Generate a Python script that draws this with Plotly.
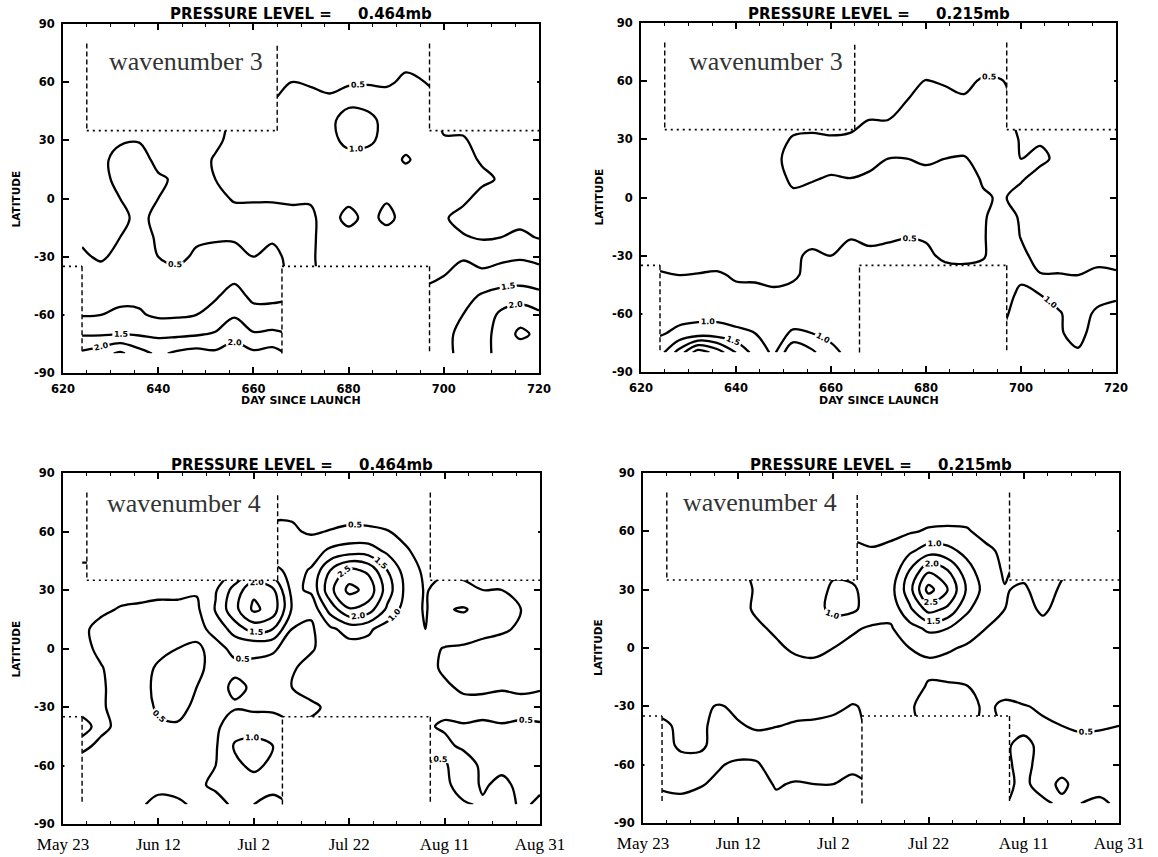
import plotly.graph_objects as go

# ---------------- data (amplitudes) ----------------
DAYS = [624, 628, 632, 636, 640, 644, 648, 652, 656, 660, 664, 668, 672,
        676, 680, 684, 688, 692, 696, 700, 704, 708, 712, 716, 720]
LATS = [80, 70, 60, 50, 40, 30, 20, 10, 0, -10, -20, -30, -40, -50, -60, -70, -80]

# wavenumber 3, 0.464 mb (rows follow LATS, columns follow DAYS)
W3_P464 = [
    [0.30,0.30,0.30,0.30,0.30,0.30,0.30,0.30,0.30,0.30,0.30,0.30,0.30,0.30,0.30,0.30,0.30,0.30,0.30,0.30,0.30,0.30,0.30,0.30,0.30],
    [0.30,0.30,0.30,0.30,0.30,0.30,0.30,0.30,0.30,0.30,0.30,0.32,0.30,0.30,0.30,0.30,0.32,0.40,0.35,0.35,0.35,0.35,0.35,0.35,0.35],
    [0.30,0.35,0.35,0.35,0.35,0.35,0.35,0.35,0.35,0.35,0.38,0.50,0.42,0.36,0.42,0.45,0.42,0.60,0.50,0.40,0.40,0.40,0.40,0.40,0.40],
    [0.35,0.40,0.40,0.40,0.40,0.40,0.40,0.40,0.40,0.40,0.50,0.70,0.75,0.60,0.85,0.80,0.75,0.90,0.80,0.45,0.45,0.45,0.45,0.45,0.45],
    [0.38,0.40,0.40,0.40,0.40,0.40,0.40,0.40,0.55,0.62,0.68,0.75,0.80,0.85,1.30,1.20,0.80,0.85,0.75,0.45,0.35,0.35,0.35,0.35,0.35],
    [0.35,0.40,0.45,0.48,0.35,0.30,0.30,0.40,0.65,0.75,0.80,0.80,0.80,0.85,1.15,1.10,0.85,0.85,0.80,0.52,0.55,0.35,0.30,0.30,0.30],
    [0.35,0.40,0.65,0.65,0.40,0.50,0.30,0.55,0.70,0.75,0.80,0.80,0.75,0.80,0.80,0.80,0.80,1.05,0.85,0.70,0.65,0.45,0.30,0.30,0.30],
    [0.35,0.40,0.60,0.70,0.55,0.45,0.30,0.50,0.70,0.75,0.75,0.80,0.80,0.80,0.80,0.80,0.80,0.80,0.80,0.75,0.75,0.60,0.45,0.30,0.30],
    [0.35,0.35,0.50,0.65,0.50,0.30,0.30,0.35,0.55,0.55,0.55,0.60,0.55,0.75,0.85,0.75,0.95,0.80,0.75,0.70,0.60,0.35,0.30,0.30,0.30],
    [0.35,0.35,0.40,0.60,0.40,0.30,0.30,0.30,0.30,0.30,0.30,0.30,0.40,0.75,1.20,0.80,1.15,0.80,0.75,0.55,0.35,0.30,0.30,0.35,0.40],
    [0.45,0.40,0.50,0.65,0.45,0.40,0.45,0.45,0.45,0.40,0.45,0.42,0.40,0.75,0.75,0.75,0.75,0.75,0.70,0.60,0.54,0.45,0.50,0.60,0.47],
    [0.55,0.45,0.60,0.65,0.50,0.42,0.55,0.65,0.65,0.50,0.60,0.40,0.40,0.80,0.80,0.80,0.80,0.80,0.80,0.85,0.95,0.85,0.90,0.95,0.90],
    [0.65,0.65,0.70,0.70,0.65,0.60,0.70,0.75,0.90,0.75,0.75,0.40,0.40,0.80,0.85,0.85,0.85,0.85,0.90,1.00,1.20,1.10,1.20,1.25,1.15],
    [0.80,0.82,0.90,0.90,0.80,0.80,0.85,0.95,1.15,0.90,0.90,0.95,1.00,1.00,1.00,1.00,1.00,1.05,1.10,1.20,1.30,1.55,1.70,1.75,1.65],
    [0.97,1.00,1.07,1.05,0.92,0.93,1.00,1.15,1.45,1.15,1.15,1.20,1.20,1.20,1.20,1.20,1.25,1.25,1.30,1.35,1.50,1.70,2.10,2.30,2.10],
    [1.45,1.45,1.50,1.45,1.40,1.40,1.45,1.55,1.80,1.55,1.60,1.50,1.50,1.50,1.50,1.50,1.50,1.50,1.45,1.40,1.60,1.80,2.20,2.60,2.40],
    [2.10,2.30,2.60,2.20,1.90,2.10,2.20,2.10,2.30,2.10,2.20,1.90,1.80,1.80,1.80,1.80,1.80,1.80,1.50,1.30,1.70,1.90,2.10,2.20,2.00],
]

# wavenumber 3, 0.215 mb
W3_P215 = [
    [0.30,0.30,0.30,0.30,0.30,0.30,0.30,0.30,0.30,0.30,0.30,0.30,0.30,0.30,0.30,0.30,0.30,0.30,0.30,0.30,0.30,0.30,0.30,0.30,0.30],
    [0.30,0.30,0.30,0.30,0.30,0.30,0.30,0.30,0.30,0.30,0.30,0.30,0.30,0.30,0.30,0.30,0.30,0.30,0.30,0.30,0.30,0.30,0.30,0.30,0.30],
    [0.30,0.30,0.30,0.30,0.30,0.30,0.30,0.30,0.30,0.30,0.30,0.30,0.30,0.35,0.52,0.45,0.40,0.55,0.52,0.30,0.30,0.30,0.30,0.30,0.30],
    [0.30,0.30,0.30,0.30,0.30,0.30,0.30,0.30,0.30,0.30,0.30,0.35,0.40,0.50,0.65,0.65,0.55,0.70,0.65,0.30,0.30,0.30,0.30,0.30,0.30],
    [0.30,0.30,0.30,0.30,0.30,0.30,0.30,0.30,0.30,0.30,0.30,0.50,0.50,0.70,0.80,0.80,0.80,0.85,0.75,0.30,0.30,0.30,0.30,0.30,0.30],
    [0.30,0.30,0.30,0.30,0.30,0.30,0.30,0.55,0.60,0.55,0.60,0.65,0.65,0.70,0.75,0.75,0.80,0.80,0.80,0.45,0.45,0.30,0.30,0.30,0.30],
    [0.30,0.30,0.30,0.30,0.30,0.30,0.40,0.65,0.70,0.75,0.75,0.60,0.50,0.50,0.55,0.50,0.45,0.70,0.80,0.50,0.60,0.40,0.30,0.30,0.30],
    [0.30,0.30,0.30,0.30,0.30,0.30,0.30,0.60,0.55,0.45,0.50,0.45,0.35,0.35,0.40,0.35,0.30,0.55,0.80,0.55,0.35,0.30,0.30,0.30,0.30],
    [0.30,0.30,0.30,0.30,0.30,0.30,0.30,0.40,0.30,0.30,0.30,0.30,0.30,0.30,0.30,0.30,0.30,0.45,0.55,0.35,0.30,0.30,0.30,0.30,0.30],
    [0.30,0.30,0.30,0.30,0.30,0.30,0.30,0.30,0.30,0.30,0.30,0.30,0.30,0.30,0.30,0.30,0.30,0.45,0.70,0.45,0.30,0.30,0.30,0.30,0.30],
    [0.30,0.30,0.30,0.30,0.30,0.30,0.30,0.35,0.40,0.42,0.48,0.45,0.45,0.48,0.45,0.35,0.35,0.45,0.80,0.48,0.30,0.30,0.30,0.30,0.30],
    [0.30,0.30,0.30,0.30,0.30,0.30,0.30,0.45,0.55,0.50,0.60,0.55,0.60,0.65,0.60,0.40,0.35,0.45,0.80,0.60,0.35,0.30,0.30,0.35,0.35],
    [0.55,0.50,0.52,0.55,0.45,0.45,0.42,0.45,0.60,0.60,0.65,0.70,0.70,0.70,0.70,0.70,0.70,0.70,0.70,0.90,0.52,0.52,0.50,0.60,0.55],
    [0.65,0.65,0.65,0.62,0.60,0.58,0.55,0.60,0.70,0.70,0.75,0.80,0.80,0.80,0.80,0.80,0.80,0.80,0.80,1.10,1.00,0.80,0.70,0.80,0.90],
    [0.75,0.85,0.85,0.85,0.80,0.75,0.70,0.80,0.80,0.75,0.75,0.90,0.90,0.90,0.90,0.90,0.90,0.90,0.90,1.20,1.15,1.05,0.75,1.10,1.20],
    [0.95,1.10,1.20,1.20,1.10,1.00,0.85,1.05,1.00,0.90,0.85,1.00,1.00,1.00,1.00,1.00,1.00,1.00,1.00,1.25,1.20,1.05,0.85,1.20,1.25],
    [1.30,2.20,3.30,2.80,2.00,1.30,0.90,2.00,1.60,1.10,0.90,1.00,1.00,1.00,1.00,1.00,1.00,1.00,1.00,1.10,1.20,1.10,1.05,1.15,1.20],
]

# wavenumber 4, 0.464 mb
W4_P464 = [
    [0.30,0.30,0.30,0.30,0.30,0.30,0.30,0.30,0.30,0.30,0.30,0.30,0.30,0.30,0.30,0.30,0.30,0.30,0.30,0.30,0.30,0.30,0.30,0.30,0.30],
    [0.30,0.30,0.30,0.30,0.30,0.30,0.30,0.30,0.30,0.30,0.45,0.45,0.32,0.30,0.30,0.30,0.30,0.30,0.30,0.30,0.30,0.30,0.30,0.30,0.30],
    [0.30,0.30,0.30,0.30,0.30,0.30,0.30,0.30,0.30,0.30,0.55,0.55,0.45,0.52,0.60,0.58,0.52,0.35,0.25,0.30,0.30,0.30,0.30,0.30,0.30],
    [0.35,0.35,0.35,0.35,0.35,0.35,0.35,0.35,0.35,0.35,0.55,0.60,0.75,1.10,1.25,1.25,0.90,0.55,0.30,0.30,0.30,0.30,0.30,0.30,0.30],
    [0.60,0.60,0.60,0.60,0.60,0.60,0.55,0.65,1.00,1.40,1.20,0.80,1.05,2.00,2.65,2.40,1.50,0.75,0.40,0.40,0.40,0.40,0.40,0.40,0.40],
    [0.60,0.60,0.60,0.60,0.60,0.60,0.55,0.95,1.70,2.40,2.10,0.85,1.10,2.35,3.15,2.85,1.75,0.85,0.45,0.75,0.60,0.50,0.50,0.40,0.30],
    [0.60,0.55,0.48,0.45,0.40,0.40,0.40,1.05,1.85,2.60,2.30,0.95,0.60,1.70,2.45,2.25,1.40,0.75,0.45,0.95,1.05,0.80,0.65,0.50,0.35],
    [0.55,0.42,0.35,0.35,0.35,0.42,0.40,0.60,1.25,1.70,1.50,0.50,0.42,0.90,1.20,1.10,0.75,0.55,0.50,0.75,0.70,0.60,0.55,0.45,0.30],
    [0.60,0.42,0.35,0.35,0.40,0.50,0.55,0.40,0.58,0.55,0.55,0.35,0.45,0.70,0.80,0.80,0.75,0.65,0.60,0.48,0.45,0.40,0.35,0.30,0.30],
    [0.60,0.52,0.35,0.35,0.55,0.70,0.60,0.35,0.42,0.45,0.35,0.45,0.65,0.70,0.65,0.65,0.65,0.65,0.60,0.45,0.35,0.35,0.35,0.35,0.35],
    [0.60,0.55,0.35,0.35,0.60,0.70,0.50,0.35,0.58,0.45,0.35,0.50,0.60,0.65,0.65,0.65,0.65,0.65,0.60,0.55,0.45,0.45,0.48,0.45,0.48],
    [0.55,0.55,0.35,0.35,0.55,0.65,0.40,0.35,0.45,0.40,0.40,0.40,0.45,0.55,0.60,0.60,0.60,0.58,0.60,0.60,0.60,0.60,0.60,0.60,0.60],
    [0.45,0.55,0.45,0.35,0.45,0.45,0.35,0.40,0.80,0.80,0.75,0.55,0.55,0.55,0.55,0.55,0.55,0.55,0.55,0.45,0.48,0.45,0.48,0.45,0.47],
    [0.55,0.45,0.40,0.40,0.40,0.40,0.40,0.45,1.05,1.15,1.00,0.80,0.80,0.80,0.80,0.80,0.80,0.80,0.55,0.60,0.42,0.40,0.40,0.40,0.40],
    [0.40,0.40,0.40,0.40,0.40,0.40,0.40,0.50,0.90,1.10,0.90,0.80,0.80,0.80,0.80,0.80,0.80,0.80,0.50,0.45,0.75,0.40,0.40,0.45,0.45],
    [0.40,0.40,0.40,0.40,0.40,0.40,0.45,0.55,0.80,0.80,0.60,0.70,0.70,0.70,0.70,0.70,0.70,0.70,0.45,0.40,0.70,0.45,0.60,0.40,0.45],
    [0.40,0.40,0.40,0.45,0.60,0.55,0.45,0.40,0.55,0.50,0.40,0.50,0.50,0.50,0.50,0.50,0.50,0.50,0.40,0.45,0.45,0.55,0.65,0.45,0.55],
]

# wavenumber 4, 0.215 mb
W4_P215 = [
    [0.30,0.30,0.30,0.30,0.30,0.30,0.30,0.30,0.30,0.30,0.30,0.30,0.30,0.30,0.30,0.30,0.30,0.30,0.30,0.30,0.30,0.30,0.30,0.30,0.30],
    [0.30,0.30,0.30,0.30,0.30,0.30,0.30,0.30,0.30,0.30,0.30,0.30,0.30,0.30,0.30,0.30,0.30,0.30,0.30,0.30,0.30,0.30,0.30,0.30,0.30],
    [0.30,0.30,0.30,0.30,0.30,0.30,0.30,0.30,0.30,0.30,0.45,0.42,0.40,0.45,0.55,0.58,0.55,0.35,0.30,0.30,0.30,0.30,0.30,0.30,0.30],
    [0.30,0.40,0.40,0.40,0.40,0.55,0.55,0.55,0.55,0.55,0.55,0.52,0.60,0.90,1.25,1.15,0.85,0.60,0.40,0.35,0.35,0.35,0.35,0.35,0.35],
    [0.30,0.40,0.40,0.40,0.45,0.55,0.60,0.60,0.65,0.90,0.90,0.55,0.60,1.50,2.40,2.00,1.20,0.70,0.45,0.60,0.60,0.55,0.40,0.40,0.40],
    [0.30,0.30,0.30,0.30,0.35,0.55,0.60,0.60,0.75,1.10,1.05,0.85,0.80,1.80,3.20,2.50,1.45,0.80,0.52,0.45,0.65,0.45,0.30,0.30,0.30],
    [0.30,0.30,0.30,0.30,0.40,0.55,0.60,0.65,0.80,1.15,1.10,0.75,0.65,1.40,2.20,1.90,1.10,0.65,0.50,0.40,0.55,0.40,0.30,0.30,0.30],
    [0.30,0.30,0.30,0.30,0.30,0.45,0.55,0.60,0.60,0.70,0.55,0.45,0.45,0.80,1.10,1.00,0.70,0.50,0.40,0.35,0.40,0.30,0.30,0.30,0.30],
    [0.30,0.30,0.30,0.30,0.30,0.30,0.45,0.55,0.55,0.50,0.40,0.35,0.35,0.50,0.60,0.55,0.45,0.35,0.30,0.30,0.30,0.30,0.30,0.30,0.30],
    [0.30,0.30,0.30,0.30,0.30,0.30,0.30,0.40,0.45,0.35,0.30,0.30,0.30,0.30,0.40,0.35,0.30,0.30,0.30,0.30,0.30,0.30,0.30,0.30,0.30],
    [0.30,0.30,0.30,0.30,0.30,0.30,0.30,0.30,0.30,0.30,0.35,0.30,0.30,0.30,0.55,0.55,0.52,0.35,0.40,0.30,0.30,0.30,0.30,0.30,0.30],
    [0.42,0.40,0.45,0.52,0.45,0.40,0.40,0.40,0.40,0.42,0.52,0.45,0.35,0.45,0.65,0.65,0.60,0.45,0.55,0.52,0.45,0.35,0.30,0.30,0.30],
    [0.55,0.45,0.45,0.58,0.52,0.47,0.49,0.53,0.55,0.60,0.65,0.40,0.40,0.40,0.65,0.65,0.65,0.40,0.55,0.60,0.55,0.50,0.45,0.47,0.50],
    [0.60,0.45,0.45,0.60,0.65,0.60,0.65,0.65,0.65,0.70,0.70,0.55,0.55,0.55,0.55,0.55,0.55,0.55,0.55,0.40,0.60,0.60,0.60,0.60,0.60],
    [0.60,0.60,0.60,0.52,0.45,0.48,0.60,0.62,0.60,0.60,0.55,0.55,0.55,0.55,0.55,0.55,0.55,0.55,0.55,0.42,0.60,0.60,0.60,0.60,0.60],
    [0.55,0.55,0.52,0.45,0.40,0.42,0.52,0.48,0.50,0.50,0.45,0.50,0.50,0.50,0.50,0.50,0.50,0.50,0.55,0.45,0.60,0.45,0.60,0.60,0.60],
    [0.40,0.45,0.40,0.40,0.40,0.40,0.45,0.40,0.40,0.40,0.40,0.45,0.45,0.45,0.45,0.45,0.45,0.45,0.50,0.50,0.45,0.55,0.50,0.45,0.55],
]

PANEL_FIELDS = [W3_P464, W3_P215, W4_P464, W4_P215]
PANEL_TITLES = ["PRESSURE LEVEL =\u00a0\u00a0\u00a0\u00a0 0.464mb",
                "PRESSURE LEVEL =\u00a0\u00a0\u00a0\u00a0 0.215mb",
                "PRESSURE LEVEL =\u00a0\u00a0\u00a0\u00a0 0.464mb",
                "PRESSURE LEVEL =\u00a0\u00a0\u00a0\u00a0 0.215mb"]
WAVE_LABELS = ["wavenumber 3", "wavenumber 3", "wavenumber 4", "wavenumber 4"]
DAY_TICKS = [620, 640, 660, 680, 700, 720]
DAY_TEXT = ["620", "640", "660", "680", "700", "720"]
DATE_TEXT = ["May 23", "Jun 12", "Jul 2", "Jul 22", "Aug 11", "Aug 31"]
LAT_TICKS = [-90, -60, -30, 0, 30, 60, 90]
LAT_TEXT = ["-90", "-60", "-30", "0", "30", "60", "90"]

# ---------------- layout constants ----------------
W, H = 1158, 857
DOMAINS = [
    ([63 / W, 539 / W], [1 - 373 / H, 1 - 24 / H]),
    ([641 / W, 1116 / W], [1 - 372 / H, 1 - 23 / H]),
    ([63 / W, 540 / W], [1 - 824 / H, 1 - 473 / H]),
    ([643 / W, 1119 / W], [1 - 823 / H, 1 - 473 / H]),
]
WAVE_POS = [(629.3, 70.6), (629.7, 70.2), (628.7, 74.6), (627.9, 74.6)]
LAT_TITLE_X = [15, 598, 15, 598]
SANS = "DejaVu Sans"
SERIF = "Liberation Serif"

fig = go.Figure()
layout = dict(width=W, height=H, margin=dict(l=0, r=0, t=0, b=0, autoexpand=False),
              paper_bgcolor="white", plot_bgcolor="white", showlegend=False)
shapes, annotations = [], []

lat_asc = LATS[::-1]
for i, field in enumerate(PANEL_FIELDS):
    s = "" if i == 0 else str(i + 1)
    xr, yr = "x" + s, "y" + s
    fig.add_trace(go.Contour(
        x=DAYS, y=lat_asc, z=field[::-1], xaxis=xr, yaxis=yr,
        contours=dict(start=0.5, end=4.0, size=0.5, coloring="lines",
                      showlabels=True, labelformat=".1f",
                      labelfont=dict(family=SANS, size=8, color="black", weight="bold")),
        colorscale=[[0, "black"], [1, "black"]], showscale=False,
        line=dict(width=2.3, smoothing=1.0), hoverinfo="skip"))

    dates = i >= 2
    xd, yd = DOMAINS[i]
    xa = dict(domain=xd, anchor=yr, range=[620, 720], automargin=False,
              showline=True, linewidth=2, linecolor="black", mirror="allticks",
              ticks="inside", ticklen=6, tickwidth=1.5, tickcolor="black",
              showgrid=False, zeroline=False,
              tickmode="array", tickvals=DAY_TICKS,
              ticktext=DATE_TEXT if dates else DAY_TEXT,
              ticklabelstandoff=4,
              tickfont=(dict(family=SERIF, size=17, color="black") if dates
                        else dict(family=SANS, size=11.5, color="black", weight="bold")),
              minor=dict(tickmode="linear", tick0=620, dtick=5, ticks="inside",
                         ticklen=3, tickwidth=1, tickcolor="black", showgrid=False))
    ya = dict(domain=yd, anchor=xr, range=[-90, 90], automargin=False,
              showline=True, linewidth=2, linecolor="black", mirror="allticks",
              ticks="inside", ticklen=6, tickwidth=1.5, tickcolor="black",
              showgrid=False, zeroline=False, ticklabelstandoff=4,
              tickmode="array", tickvals=LAT_TICKS, ticktext=LAT_TEXT,
              tickfont=dict(family=SANS, size=11.5, color="black", weight="bold"))
    layout["xaxis" + s] = xa
    layout["yaxis" + s] = ya

    # no-data regions (white) and their dashed / dotted outlines
    for (x0, y0, x1, y1) in [(625, 35, 665, 80.5), (697, 35, 719.6, 80.5),
                             (620.3, -80.5, 624, -35), (666, -80.5, 697, -35)]:
        shapes.append(dict(type="rect", xref=xr, yref=yr, x0=x0, y0=y0, x1=x1, y1=y1,
                           fillcolor="white", line=dict(width=0), layer="above"))
    for (x0, y0, x1, y1) in [(625, 80, 625, 35), (665, 35, 665, 80), (697, 80, 697, 35),
                             (624, -35, 624, -80), (666, -80, 666, -35), (697, -35, 697, -80)]:
        shapes.append(dict(type="line", xref=xr, yref=yr, x0=x0, y0=y0, x1=x1, y1=y1,
                           line=dict(color="black", width=1.4, dash="5px,3px"), layer="above"))
    for (x0, y0, x1, y1) in [(625, 35, 665, 35), (697, 35, 720, 35),
                             (620, -35, 624, -35), (666, -35, 697, -35)]:
        shapes.append(dict(type="line", xref=xr, yref=yr, x0=x0, y0=y0, x1=x1, y1=y1,
                           line=dict(color="black", width=1.6, dash="2px,4px"), layer="above"))

    xc = (xd[0] + xd[1]) / 2
    top_px = 14 if i < 2 else 464.5
    annotations.append(dict(xref="paper", yref="paper", x=xc, y=1 - top_px / H,
                            text=PANEL_TITLES[i], showarrow=False, xanchor="center",
                            yanchor="middle",
                            font=dict(family=SANS, size=15, color="black", weight="bold")))
    annotations.append(dict(xref="paper", yref="paper", x=LAT_TITLE_X[i] / W,
                            y=(yd[0] + yd[1]) / 2, text="LATITUDE", textangle=-90,
                            showarrow=False, xanchor="center", yanchor="middle",
                            font=dict(family=SANS, size=10.5, color="black", weight="bold")))
    if not dates:
        annotations.append(dict(xref="paper", yref="paper", x=xc, y=1 - 400 / H,
                                text="DAY SINCE LAUNCH", showarrow=False,
                                xanchor="center", yanchor="middle",
                                font=dict(family=SANS, size=11, color="black", weight="bold")))
    wx, wy = WAVE_POS[i]
    annotations.append(dict(xref=xr, yref=yr, x=wx, y=wy, text=WAVE_LABELS[i],
                            showarrow=False, xanchor="left", yanchor="middle",
                            font=dict(family=SERIF, size=26, color="#333333")))

layout["shapes"] = shapes
layout["annotations"] = annotations
fig.update_layout(**layout)
fig.write_html("out.html")
